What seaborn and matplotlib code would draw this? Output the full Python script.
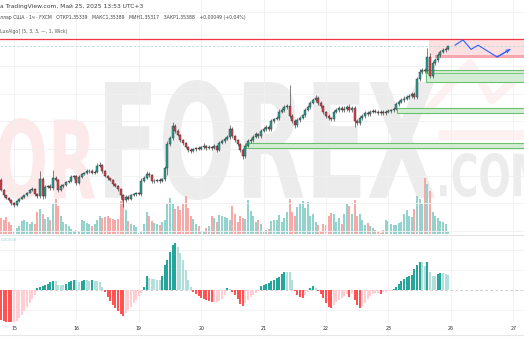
import numpy as np
import pandas as pd
import matplotlib
matplotlib.use("Agg")
import matplotlib.pyplot as plt
import seaborn as sns
from matplotlib.textpath import TextPath
from matplotlib.patches import PathPatch, Rectangle
from matplotlib.transforms import Affine2D
from matplotlib.font_manager import FontProperties
from matplotlib.lines import Line2D

sns.set_theme(style="white")
plt.rcParams['font.family'] = ['DejaVu Sans']

# ---------------- data (GBP/USD, 1h, FXCM) ----------------
first_open = 1.3311
close = [
    1.3294, 1.3285, 1.3280, 1.3277, 1.3272, 1.3268, 1.3275, 1.3279, 1.3282, 1.3285,
    1.3289, 1.3294, 1.3296, 1.3287, 1.3284, 1.3313, 1.3284, 1.3299, 1.3301, 1.3297,
    1.3314, 1.3311, 1.3294, 1.3301, 1.3302, 1.3308, 1.3309, 1.3316, 1.3318, 1.3306,
    1.3316, 1.3321, 1.3323, 1.3326, 1.3327, 1.3323, 1.3325, 1.3335, 1.3336, 1.3326,
    1.3318, 1.3314, 1.3311, 1.3304, 1.3301, 1.3296, 1.3285, 1.3277, 1.3282, 1.3279,
    1.3285, 1.3287, 1.3289, 1.3287, 1.3309, 1.3314, 1.3321, 1.3319, 1.3309, 1.3310,
    1.3311, 1.3309, 1.3313, 1.3331, 1.3372, 1.3382, 1.3403, 1.3394, 1.3387, 1.3379,
    1.3374, 1.3367, 1.3362, 1.3360, 1.3364, 1.3365, 1.3364, 1.3367, 1.3369, 1.3365,
    1.3367, 1.3365, 1.3369, 1.3362, 1.3374, 1.3377, 1.3381, 1.3384, 1.3398, 1.3386,
    1.3379, 1.3372, 1.3362, 1.3352, 1.3369, 1.3377, 1.3379, 1.3384, 1.3389, 1.3386,
    1.3394, 1.3398, 1.3401, 1.3398, 1.3411, 1.3415, 1.3416, 1.3427, 1.3430, 1.3435,
    1.3437, 1.3420, 1.3411, 1.3404, 1.3413, 1.3416, 1.3421, 1.3430, 1.3435, 1.3442,
    1.3447, 1.3450, 1.3442, 1.3437, 1.3427, 1.3420, 1.3416, 1.3415, 1.3427, 1.3430,
    1.3433, 1.3430, 1.3432, 1.3435, 1.3430, 1.3433, 1.3411, 1.3408, 1.3416, 1.3420,
    1.3425, 1.3423, 1.3427, 1.3428, 1.3427, 1.3425, 1.3427, 1.3425, 1.3427, 1.3428,
    1.3430, 1.3432, 1.3440, 1.3444, 1.3447, 1.3449, 1.3452, 1.3454, 1.3457, 1.3452,
    1.3483, 1.3495, 1.3498, 1.3496, 1.3520, 1.3488, 1.3510, 1.3515, 1.3523, 1.3529,
    1.3532, 1.35339, 1.35388]
# wick lengths in pips above / below the candle body
wick_up = [
    3, 2, 1, 2, 1, 1, 2, 1, 2, 1,
    2, 2, 3, 1, 2, 14, 3, 4, 2, 3,
    14, 3, 2, 3, 2, 2, 1, 3, 2, 2,
    3, 2, 2, 3, 2, 2, 3, 4, 6, 2,
    2, 2, 1, 2, 2, 1, 2, 2, 4, 3,
    2, 2, 2, 2, 5, 4, 6, 3, 2, 2,
    2, 3, 2, 3, 5, 4, 7, 3, 3, 2,
    2, 2, 2, 3, 2, 2, 3, 2, 4, 2,
    3, 2, 3, 2, 4, 3, 3, 4, 6, 3,
    2, 2, 2, 3, 4, 3, 3, 4, 3, 2,
    3, 3, 4, 3, 3, 2, 3, 4, 3, 4,
    3, 35, 3, 4, 3, 3, 2, 3, 3, 3,
    3, 5, 3, 3, 2, 2, 3, 2, 3, 4,
    3, 3, 4, 3, 5, 3, 3, 3, 3, 3,
    3, 4, 3, 3, 4, 3, 3, 3, 3, 3,
    2, 3, 3, 3, 3, 4, 3, 3, 4, 3,
    3, 4, 3, 4, 15, 6, 3, 3, 4, 3,
    4, 3, 0.1]
wick_dn = [
    2, 3, 2, 2, 3, 3, 2, 2, 1, 2,
    2, 1, 2, 3, 4, 3, 5, 3, 2, 3,
    3, 2, 4, 2, 3, 2, 2, 2, 3, 4,
    2, 2, 2, 2, 3, 2, 2, 3, 2, 3,
    2, 3, 2, 3, 2, 3, 6, 12, 3, 2,
    2, 2, 3, 2, 3, 2, 2, 3, 4, 3,
    2, 3, 2, 3, 12, 4, 3, 3, 2, 3,
    3, 2, 3, 3, 2, 3, 2, 2, 3, 3,
    2, 3, 2, 3, 2, 2, 3, 2, 3, 3,
    3, 3, 4, 5, 3, 2, 3, 3, 2, 3,
    3, 2, 3, 4, 3, 3, 2, 3, 2, 3,
    3, 4, 4, 5, 3, 3, 2, 3, 2, 3,
    2, 3, 3, 4, 4, 3, 3, 4, 3, 3,
    3, 3, 3, 4, 3, 3, 10, 4, 3, 3,
    3, 3, 3, 2, 3, 3, 4, 3, 3, 2,
    3, 3, 2, 3, 2, 3, 2, 3, 3, 4,
    4, 3, 4, 3, 4, 4, 3, 3, 3, 3,
    3, 3, 2.2]
volume = [
    16, 14, 17, 12, 9, 2, 6, 8, 13, 14,
    12, 10, 12, 10, 22, 25, 20, 15, 17, 14,
    30, 35, 28, 18, 12, 10, 8, 5, 3, 4,
    3, 14, 13, 11, 10, 8, 10, 14, 18, 16,
    17, 18, 16, 15, 14, 15, 33, 35, 24, 13,
    10, 9, 7, 1, 2, 10, 22, 18, 13, 11,
    10, 9, 12, 14, 30, 36, 30, 25, 28, 24,
    30, 38, 26, 18, 15, 10, 8, 3, 2, 6,
    8, 18, 16, 12, 19, 18, 17, 16, 14, 28,
    20, 12, 18, 16, 15, 34, 23, 18, 12, 14,
    10, 2, 4, 5, 13, 14, 14, 19, 12, 16,
    22, 35, 22, 18, 27, 30, 33, 26, 32, 18,
    20, 12, 9, 3, 10, 9, 18, 21, 20, 12,
    16, 10, 20, 30, 28, 20, 34, 18, 20, 14,
    9, 11, 8, 6, 4, 2, 1, 4, 14, 13,
    10, 9, 9, 11, 12, 20, 24, 18, 17, 25,
    38, 35, 30, 56, 50, 43, 22, 18, 16, 13,
    12, 10, 3]
macd_hist = [
    -30, -31, -32, -33, -34, -33, -31, -28, -25, -21,
    -17, -13, -9, -5, 2, 3, 4, 5, 6, 8,
    9, 9, 5, 5, 5, 6, 8, 9, 10, 10,
    8, 9, 10, 10, 9, 10, 9, 9, 8, 3,
    -2, -7, -11, -15, -18, -21, -24, -26, -23, -20,
    -17, -13, -10, -6, -3, 3, 14, 12, 11, 11,
    10, 10, 14, 25, 30, 38, 45, 47, 43, 37,
    30, 20, 10, 3, -2, -4, -6, -8, -9, -10,
    -11, -12, -12, -12, -11, -9, -5, 2, 1, -2,
    -5, -9, -14, -16, -13, -10, -7, -5, -3, -1,
    4, 5, 6, 7, 9, 10, 12, 13, 16, 18,
    18, 18, 10, -1, -5, -7, -8, -5, -2, 2,
    4, 2, -1, -4, -8, -13, -17, -18, -15, -12,
    -10, -8, -6, -4, -7, -4, -10, -15, -18, -16,
    -13, -9, -6, -4, -3, -3, -4, -2, -2, -1,
    -1, 1, 3, 6, 9, 11, 13, 14, 15, 21,
    25, 28, 28, 24, 28, 18, 14, 14, 16, 17,
    17, 16, 15]
day_labels = ["15", "16", "19", "20", "21", "22", "23", "26", "27"]
day_start_bar = [5, 29, 53, 77, 101, 125, 149, 173, 197]

resistance = 1.3551
last_close = 1.35388
zone_lo = [1.3518, 1.3477, 1.3425, 1.3365]
zone_hi = [1.3551, 1.3498, 1.3433, 1.3374]
zone_start = [164.6, 163.5, 152.3, 94.2]
forecast_bar = [174.6, 177.7, 180.8, 183.5, 190.8, 195.8]
forecast_price = [1.3540, 1.3549, 1.3533, 1.3540, 1.3520, 1.3533]
grid_prices = [1.3597, 1.3550, 1.3504, 1.3457, 1.3411, 1.3364, 1.3318, 1.3272, 1.3225]

# ---------------- derived ----------------
close = np.array(close)
n = len(close)
idx = np.arange(n)
opens = np.r_[first_open, close[:-1]]
high = np.maximum(opens, close) + np.array(wick_up) * 1e-4
low = np.minimum(opens, close) - np.array(wick_dn) * 1e-4
up = close >= opens

W, H = 524, 350
XL = (-0.385, 201.15)
fig = plt.figure(figsize=(W / 100, H / 100), dpi=100)
fig.patch.set_facecolor('white')

# background / watermark layer in pixel coords
bg = fig.add_axes([0, 0, 1, 1], zorder=0)
bg.set_xlim(0, W); bg.set_ylim(H, 0); bg.axis('off')

def box_text(s, x0, x1, ytop, ybot, color):
    fp = FontProperties(family='DejaVu Sans', weight='bold')
    tp = TextPath((0, 0), s, size=100, prop=fp)
    bb = tp.get_extents()
    sx = (x1 - x0) / bb.width
    sy = (ybot - ytop) / bb.height
    tr = Affine2D().translate(-bb.x0, -bb.y0).scale(sx, -sy).translate(x0, ybot)
    bg.add_patch(PathPatch(tr.transform_path(tp), fc=color, ec='none', zorder=0))

box_text("OR", -2, 95, 118, 200, '#fde9e9')
box_text("FOREX", 105, 435, 80, 200, '#ececec')
box_text(".COM", 440, 545, 153, 197, '#ececec')
bg.plot([425, 470, 492, 530], [113, 63, 100, 66], color='#fdf1f1', lw=6, solid_capstyle='butt', zorder=0)
bg.add_patch(Rectangle((439, 130), 90, 10, fc='#fdf1f1', ec='none', zorder=0))

# ---------------- volume (behind) ----------------
ax_v = fig.add_axes([0, 1 - 234 / H, 1, 234 / H], zorder=1)
ax_v.set_facecolor('none')
dfv = pd.DataFrame({'bar': idx, 'vol': volume, 'dir': np.where(up, 'up', 'down')})
sns.barplot(data=dfv, x='bar', y='vol', hue='dir',
            palette={'up': '#94d3cd', 'down': '#f7a9a7'}, native_scale=True,
            dodge=False, width=0.75, saturation=1, errorbar=None, legend=False,
            linewidth=0, ax=ax_v)
ax_v.set_xlim(*XL); ax_v.set_ylim(0, 234)
ax_v.axis('off')

# ---------------- price ----------------
ax = fig.add_axes([0, 1 - 234 / H, 1, 234 / H], zorder=2)
ax.set_facecolor('none')
ax.set_xlim(*XL)
ax.set_ylim(1.32191, 1.36169)
for g in grid_prices:
    ax.axhline(g, color='#f0f0f0', lw=0.6, zorder=0)
for d in day_start_bar:
    ax.axvline(d, color='#f0f0f0', lw=0.6, zorder=0)

# zones
for k in range(4):
    if k == 0:
        ax.add_patch(Rectangle((zone_start[k], zone_lo[k]), 200, zone_hi[k] - zone_lo[k],
                               fc='#fcdfe1', ec='none', zorder=1))
        ax.add_patch(Rectangle((zone_start[k] + 2.4, zone_lo[k]), 200, 0.0005,
                               fc='#f7a6ad', ec='none', zorder=1.1))
    else:
        ax.add_patch(Rectangle((zone_start[k], zone_lo[k]), 200, zone_hi[k] - zone_lo[k],
                               fc='#d3ecd4', ec='#6dbf71', lw=0.8, zorder=1))
ax.plot([zone_start[1], 400], [zone_hi[1] - 0.0005] * 2, color='#6dbf71', lw=0.6, zorder=1.2)

ax.axhline(resistance, color='#f23645', lw=0.9, zorder=2)
ax.axhline(last_close, color='#b9dcd6', lw=0.6, ls=(0, (3, 2)), zorder=2)

# candles
ax.vlines(idx, low, high, color='#3a3a3a', lw=0.45, zorder=3)
body_bottom = np.minimum(opens, close)
body_h = np.maximum(np.abs(close - opens), 0.00004)
ax.bar(idx, body_h, bottom=body_bottom, width=0.72,
       color=np.where(up, '#26a69a', '#e5404e'), edgecolor='#2a2a2a', linewidth=0.3, zorder=4)

# forecast path
ax.plot(forecast_bar, forecast_price, color='#2962ff', lw=0.8, zorder=5)
ax.annotate('', xy=(forecast_bar[-1], forecast_price[-1]),
            xytext=(forecast_bar[-2], forecast_price[-2]),
            arrowprops=dict(arrowstyle='->', color='#2962ff', lw=0.8, mutation_scale=5,
                            shrinkA=0, shrinkB=0), zorder=5)
ax.set_xticks([]); ax.set_yticks([])
for s in ax.spines.values():
    s.set_visible(False)

# ---------------- MACD histogram ----------------
ax_m = fig.add_axes([0, 1 - 322 / H, 1, 87 / H], zorder=2)
ax_m.set_facecolor('none')
hist = np.array(macd_hist)
prev = np.r_[hist[0] + 1, hist[:-1]]
cat = np.where(hist >= 0, np.where(hist > prev, 'pos_up', 'pos_dn'),
               np.where(hist < prev, 'neg_dn', 'neg_up'))
dfm = pd.DataFrame({'bar': idx, 'hist': hist, 'cat': cat})
for g in [40, 20, -20]:
    ax_m.axhline(g, color='#f0f0f0', lw=0.6, zorder=0)
for d in day_start_bar:
    ax_m.axvline(d, color='#f0f0f0', lw=0.6, zorder=0)
ax_m.axhline(0, color='#c4c4c4', lw=0.6, ls=(0, (3, 3)), zorder=0.5)
sns.barplot(data=dfm, x='bar', y='hist', hue='cat',
            palette={'pos_up': '#26a69a', 'pos_dn': '#b2dfdb',
                     'neg_dn': '#ff5252', 'neg_up': '#ffcdd2'},
            native_scale=True, dodge=False, width=0.75, saturation=1, errorbar=None,
            legend=False, linewidth=0, ax=ax_m)
ax_m.set_xlim(*XL); ax_m.set_ylim(-32, 55)
ax_m.set_xlabel(''); ax_m.set_ylabel('')
ax_m.set_yticks([])
ax_m.set_xticks(day_start_bar)
ax_m.set_xticklabels(day_labels)
ax_m.tick_params(axis='x', length=0, pad=3.2, labelsize=3.4, labelcolor='#2a2e39')
for s in ax_m.spines.values():
    s.set_visible(False)

# separators
fig.add_artist(Line2D([0, 1], [1 - 234.5 / H] * 2, color='#e3e3e3', lw=0.7))
fig.add_artist(Line2D([0, 1], [1 - 335 / H] * 2, color='#e6e6e6', lw=0.8))

# header texts
fig.text(0, 1 - 6 / H, "а TradingView.com, Май 25, 2025 13:53 UTC+3",
         fontsize=4.3, color='#3c3c3c', va='center', ha='left')
fig.text(0, 1 - 17 / H,
         "ллар США · 1ч · FXCM   ОТКР1,35339   МАКС1,35389   МИН1,35317   ЗАКР1,35388   +0,00049 (+0,04%)",
         fontsize=3.3, color='#444444', va='center', ha='left')
fig.text(0, 1 - 32 / H, "LuxAlgo] (5, 3, 3, —, 1, Wick)",
         fontsize=3.3, color='#555555', va='center', ha='left')
fig.text(1 / W, 1 - 240 / H, "0,00038", fontsize=2.8, color='#9fd4cf', va='center', ha='left')

fig.savefig('out.png', dpi=100)
